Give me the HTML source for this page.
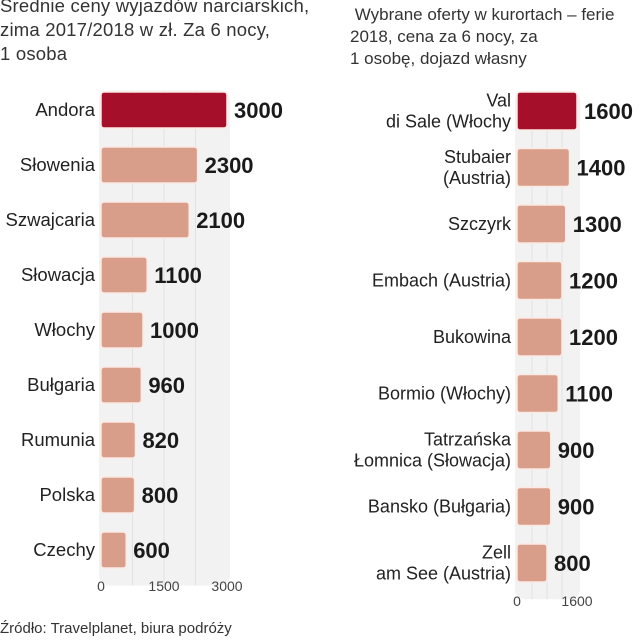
<!DOCTYPE html>
<html><head><meta charset="utf-8"><style>
body{margin:0;width:642px;height:640px;background:#fff;overflow:hidden;font-family:"Liberation Sans",sans-serif;}
.t{position:absolute;color:#333;font-weight:300}
</style></head><body>
<div class="t" style="left:0;top:-6px;font-size:18.5px;line-height:24px;letter-spacing:0.2px;">Średnie ceny wyjazdów narciarskich,<br>zima 2017/2018 w zł. Za 6 nocy,<br>1 osoba</div>
<div class="t" style="left:350px;top:4px;font-size:17px;line-height:22px;">&nbsp;Wybrane oferty w kurortach – ferie<br>2018, cena za 6 nocy, za<br>1 osobę, dojazd własny</div>
<div class="t" style="left:0;top:620px;font-size:15px;">Źródło: Travelplanet, biura podróży</div>
<svg id="s" width="642" height="640" style="position:absolute;left:0;top:0"></svg>
<script>
const leftCats=["Andora","Słowenia","Szwajcaria","Słowacja","Włochy","Bułgaria","Rumunia","Polska","Czechy"];
const leftVals=[3000,2300,2100,1100,1000,960,820,800,600];
const leftTicks=[0,1500,3000];
const rightCats=[["Val","di Sale (Włochy"],["Stubaier","(Austria)"],["Szczyrk"],["Embach (Austria)"],["Bukowina"],["Bormio (Włochy)"],["Tatrzańska","Łomnica (Słowacja)"],["Bansko (Bułgaria)"],["Zell","am See (Austria)"]];
const rightVals=[1600,1400,1300,1200,1200,1100,900,900,800];
const rightTicks=[0,1600];
const s=document.getElementById('s');const NS="http://www.w3.org/2000/svg";
function el(t,a,p){const e=document.createElementNS(NS,t);for(const k in a)e.setAttribute(k,a[k]);(p||s).appendChild(e);return e;}
function chart(o){
  const x=v=>o.x0+v/o.max*o.w;
  const y=i=>o.y0+i*o.step;
  const bg=el('rect',{x:o.x0-2,y:o.y0-o.step/2+8,width:o.w+5,height:o.step*o.cats.length,rx:10,fill:'#f2f2f2'});
  
  for(let k=1;k<4;k++){const g=el('line',{x1:x(o.max*k/4),x2:x(o.max*k/4),y1:o.y0-o.step/2+8,y2:o.y0+o.step*(o.cats.length-0.5)+8,stroke:'#e2e2e2','stroke-width':1});
    }
  o.cats.forEach((c,i)=>{
    const cy=y(i);
    const b=el('rect',{x:o.x0,y:cy-o.bh/2,width:x(o.vals[i])-o.x0,height:o.bh,rx:3,fill:i==0?'#a50f2a':'#d89e8a',stroke:'#fbe9e3','stroke-width':1.5});
    
    const lines=Array.isArray(c)?c:[c];
    lines.forEach((ln,j)=>{
      const t=el('text',{x:o.x0-6,y:cy+6+(j-(lines.length-1)/2)*21,'text-anchor':'end','font-size':o.fs,fill:'#222','font-family':'Liberation Sans, sans-serif'});
      t.textContent=ln;
    });
    const v=el('text',{x:x(o.vals[i])+7,y:cy+8,'font-size':22,'font-weight':'bold',fill:'#1a1a1a','font-family':'Liberation Sans Narrow, Liberation Sans, sans-serif'});
    v.textContent=o.vals[i];
  });
  o.ticks.forEach(tk=>{
    const t=el('text',{x:x(tk),y:o.tickY,'text-anchor':'middle','font-size':14,fill:'#444','font-family':'Liberation Sans, sans-serif'});
    t.textContent=tk;
  });
}
chart({name:'left',cats:leftCats,vals:leftVals,ticks:leftTicks,x0:101,w:126,max:3000,y0:110,step:55,bh:36,tickY:591,fs:18.5});
chart({name:'right',cats:rightCats,vals:rightVals,ticks:rightTicks,x0:517,w:60,max:1600,y0:111,step:56.5,bh:38,tickY:606,fs:18});
</script>
</body></html>
